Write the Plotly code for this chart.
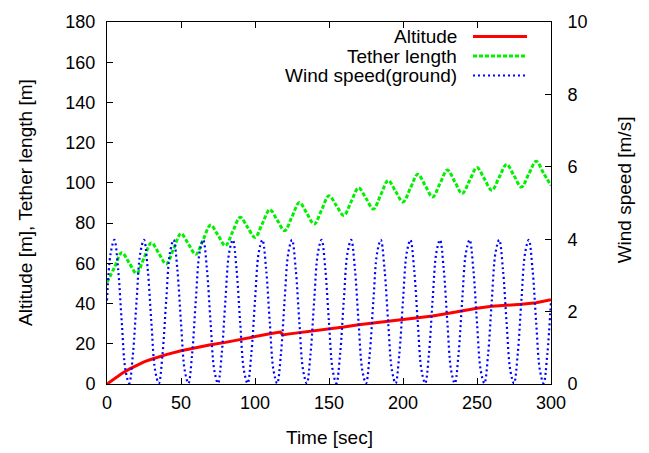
import plotly.graph_objects as go

# ---------------- data ----------------
alt_time = [0, 5, 10, 15, 20, 25, 30, 40, 50, 60, 70, 80, 90, 100, 110, 117, 119, 122,
            130, 140, 150, 160, 170, 180, 190, 200, 210, 220, 230, 240, 250, 260, 270,
            280, 290, 300]
altitude = [0, 2.8, 5.2, 7.4, 9.4, 11.0, 12.3, 14.6, 16.5, 18.1, 19.5, 20.7, 22.2, 23.8,
            25.0, 25.8, 24.4, 24.8, 25.5, 26.3, 27.1, 28.3, 29.5, 30.3, 31.1, 32.0, 33.0,
            33.8, 35.1, 36.5, 37.7, 38.7, 39.1, 39.6, 40.4, 41.9]

tether_time = [0, 5, 10, 15, 20, 25, 30, 35, 40, 45, 50, 55, 60, 65, 70, 75, 80, 85, 90,
               95, 100, 105, 110, 115, 120, 125, 130, 135, 140, 145, 150, 155, 160, 165,
               170, 175, 180, 185, 190, 195, 200, 205, 210, 215, 220, 225, 230, 235, 240,
               245, 250, 255, 260, 265, 270, 275, 280, 285, 290, 295, 300]
tether = [50.5, 57.9, 65.3, 60.2, 55.0, 62.6, 70.2, 65.0, 59.7, 67.2, 74.8, 69.6, 64.5,
          71.8, 79.0, 74.0, 68.8, 75.9, 82.9, 77.9, 72.9, 79.8, 86.7, 81.5, 76.2, 83.2,
          90.2, 84.9, 79.5, 86.6, 93.6, 88.7, 83.8, 90.7, 97.5, 92.3, 87.0, 94.1, 101.2,
          95.8, 90.5, 97.4, 104.3, 98.7, 93.0, 99.7, 106.4, 100.6, 94.7, 101.2, 107.6,
          102.0, 96.3, 102.8, 109.2, 103.6, 97.9, 104.4, 110.8, 104.8, 98.7]

wind_time = [i * 2.5 for i in range(121)]
wind = [2.31, 3.62, 3.98, 3.18, 1.69, 0.38, 0.02, 0.82,
        2.31, 3.62, 3.98, 3.18, 1.69, 0.38, 0.02, 0.82,
        2.31, 3.62, 3.98, 3.18, 1.69, 0.38, 0.02, 0.82,
        2.31, 3.62, 3.98, 3.18, 1.69, 0.38, 0.02, 0.82,
        2.31, 3.62, 3.98, 3.18, 1.69, 0.38, 0.02, 0.82,
        2.31, 3.62, 3.98, 3.18, 1.69, 0.38, 0.02, 0.82,
        2.31, 3.62, 3.98, 3.18, 1.69, 0.38, 0.02, 0.82,
        2.31, 3.62, 3.98, 3.18, 1.69, 0.38, 0.02, 0.82,
        2.31, 3.62, 3.98, 3.18, 1.69, 0.38, 0.02, 0.82,
        2.31, 3.62, 3.98, 3.18, 1.69, 0.38, 0.02, 0.82,
        2.31, 3.62, 3.98, 3.18, 1.69, 0.38, 0.02, 0.82,
        2.31, 3.62, 3.98, 3.18, 1.69, 0.38, 0.02, 0.82,
        2.31, 3.62, 3.98, 3.18, 1.69, 0.38, 0.02, 0.82,
        2.31, 3.62, 3.98, 3.18, 1.69, 0.38, 0.02, 0.82,
        2.31, 3.62, 3.98, 3.18, 1.69, 0.38, 0.02, 0.82,
        2.31]

x_ticks = [0, 50, 100, 150, 200, 250, 300]
y_ticks = [0, 20, 40, 60, 80, 100, 120, 140, 160, 180]
y2_ticks = [0, 2, 4, 6, 8, 10]

series_names = ["Altitude", "Tether length", "Wind speed(ground)"]
series_colors = ["#ff0000", "#00f000", "#0000ff"]
series_dash = ["solid", "4px,2px", "2px,3px"]
series_width = [3, 3, 2.2]

# ---------------- layout constants ----------------
W, H = 649, 453
L, R, T, B = 107, 98, 12, 69
FONT = "Liberation Sans, Arial, sans-serif"
FS = 18     # tick labels
FT = 19     # titles / key

fig = go.Figure()
fig.add_trace(go.Scatter(x=alt_time, y=altitude, mode="lines", name=series_names[0],
                         line=dict(color=series_colors[0], width=series_width[0],
                                   dash=series_dash[0]), showlegend=False))
fig.add_trace(go.Scatter(x=tether_time, y=tether, mode="lines", name=series_names[1],
                         line=dict(color=series_colors[1], width=series_width[1],
                                   dash=series_dash[1], shape="spline"), showlegend=False))
fig.add_trace(go.Scatter(x=wind_time, y=wind, mode="lines", name=series_names[2], yaxis="y2",
                         line=dict(color=series_colors[2], width=series_width[2],
                                   dash=series_dash[2], shape="spline"), showlegend=False))

axis_common = dict(showgrid=False, zeroline=False, ticks="inside", ticklen=6,
                   tickwidth=1, tickcolor="black", linecolor="black", linewidth=1,
                   showline=True, tickfont=dict(family=FONT, size=FS, color="black"))

fig.update_layout(
    width=W, height=H,
    margin=dict(l=L, r=R, t=T, b=B, pad=0),
    paper_bgcolor="white", plot_bgcolor="white",
    font=dict(family=FONT, size=FS, color="black"),
    xaxis=dict(range=[0, 300], tickvals=x_ticks, mirror="ticks", ticklabelstandoff=2,
               **axis_common),
    yaxis=dict(range=[0, 180], tickvals=y_ticks, mirror=True, ticklabelstandoff=7,
               **axis_common),
    yaxis2=dict(range=[0, 10], tickvals=y2_ticks, overlaying="y", side="right",
                ticklabelstandoff=12, **axis_common),
)

pw = W - L - R
ph = H - T - B
def px(xp):
    return (xp - L) / pw
def py(yp):
    return (H - B - yp) / ph

# axis titles as annotations (gnuplot placement)
fig.add_annotation(text="Time [sec]", xref="paper", yref="paper",
                   x=px(329), y=py(439), showarrow=False,
                   xanchor="center", yanchor="middle",
                   font=dict(family=FONT, size=FT, color="black"))
fig.add_annotation(text="Altitude [m], Tether length [m]", xref="paper", yref="paper",
                   x=px(25), y=py(198), textangle=-90, showarrow=False,
                   xanchor="center", yanchor="middle",
                   font=dict(family=FONT, size=FT, color="black"))
fig.add_annotation(text="Wind speed [m/s]", xref="paper", yref="paper",
                   x=px(624), y=py(185), textangle=-90, showarrow=False,
                   xanchor="center", yanchor="middle",
                   font=dict(family=FONT, size=FT, color="black"))

# gnuplot-style key: text right-aligned, sample line to the right
key_rows = [27, 47, 67]
for i, name in enumerate(series_names):
    fig.add_annotation(text=name, xref="paper", yref="paper", x=px(459), y=py(key_rows[i]),
                       xanchor="right", yanchor="middle", showarrow=False,
                       font=dict(family=FONT, size=FT, color="black"))
    fig.add_shape(type="line", xref="paper", yref="paper",
                  x0=px(473), x1=px(527), y0=py(key_rows[i]), y1=py(key_rows[i]),
                  line=dict(color=series_colors[i], width=series_width[i],
                            dash=series_dash[i]))

fig.write_html("out.html")
